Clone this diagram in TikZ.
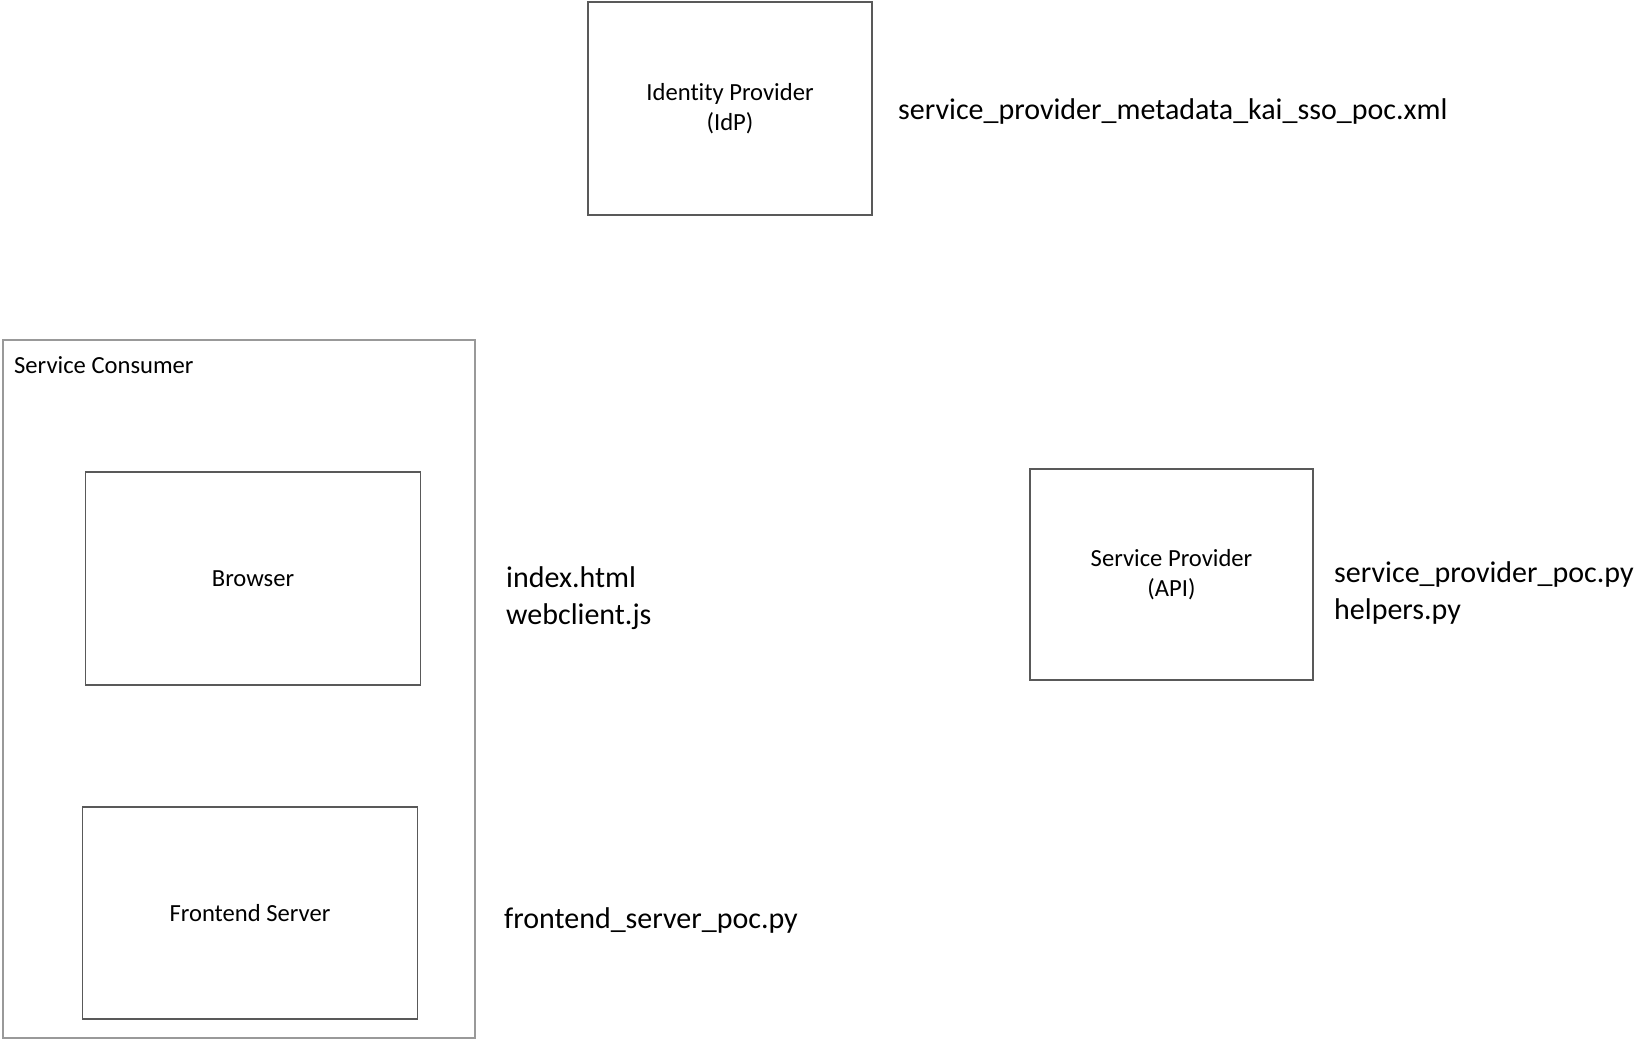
\documentclass[tikz,border=0pt]{standalone}
\usepackage{fontspec}
\setmainfont{Carlito}[Ligatures={NoCommon}]
\begin{document}
\begin{tikzpicture}[x=1pt,y=-1pt,
  boxnode/.style={draw=black!65,line width=1.2pt,inner sep=0pt,outer sep=0pt,
    align=center,font=\fontsize{24.6}{30}\selectfont},
  groupbox/.style={draw=black!40,line width=1.2pt,inner sep=0pt,outer sep=0pt},
  filelabel/.style={anchor=west,inner sep=0pt,align=left,font=\fontsize{30}{36.4}\selectfont},
  grouplabel/.style={anchor=west,inner sep=0pt,font=\fontsize{24.6}{30}\selectfont}]
\useasboundingbox (0,0) rectangle (1648,1039);
% container
\node[groupbox,minimum width=472pt,minimum height=698pt] (consumer) at (239,689) {};
\node[grouplabel] (consumerlabel) at (14,365) {Service Consumer};
% boxes
\node[boxnode,minimum width=284pt,minimum height=213pt] (idp) at (730,108.5) {Identity Provider\\(IdP)};
\node[boxnode,minimum width=283pt,minimum height=211pt] (sp) at (1171.5,574.5) {Service Provider\\(API)};
\node[boxnode,minimum width=335.5pt,minimum height=213pt] (browser) at (253,578.5) {Browser};
\node[boxnode,minimum width=335.5pt,minimum height=212pt] (frontend) at (250,913) {Frontend Server};
% file labels
\node[filelabel] (idpfiles) at (898,111) {service\_provider\_metadata\_kai\_sso\_poc.xml};
\node[filelabel] (browserfiles) at (506,598) {index.html\\webclient.js};
\node[filelabel] (spfiles) at (1334,593) {service\_provider\_poc.py\\helpers.py};
\node[filelabel] (frontendfiles) at (504,920) {frontend\_server\_poc.py};
\end{tikzpicture}
\end{document}
